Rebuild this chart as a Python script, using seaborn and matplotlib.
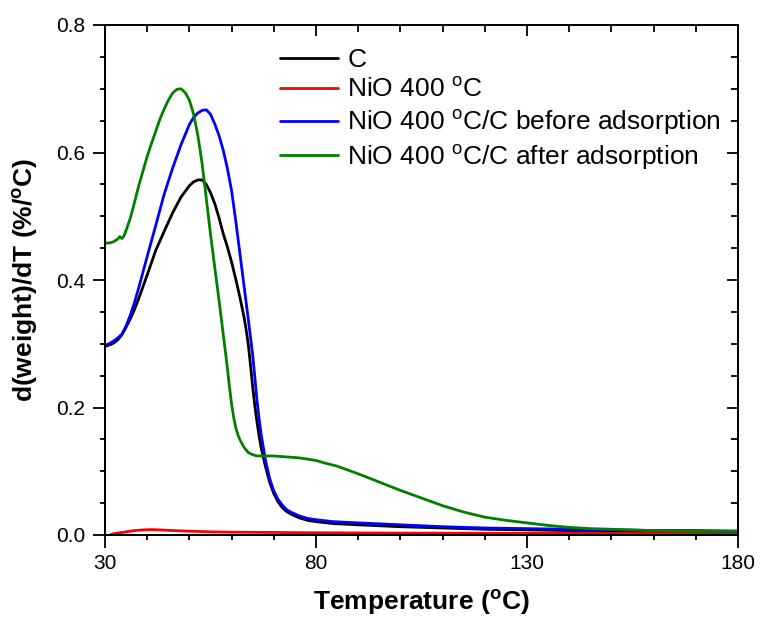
import numpy as np
import pandas as pd
import matplotlib
matplotlib.use("Agg")
import matplotlib.pyplot as plt
import matplotlib.transforms as mtransforms
import seaborn as sns
from matplotlib.ticker import FixedLocator, NullLocator, FormatStrFormatter

# Data
t_c = [30, 31, 32, 33, 34, 35, 36, 37, 38, 40, 42, 44, 46, 48, 50, 51, 52, 53, 54, 55, 56, 57, 58, 59,
       60, 61, 62, 63, 63.5, 64, 64.5, 65, 65.5, 66, 66.5, 67, 68, 69, 70, 71, 72, 73, 74, 76, 78, 80,
       84, 90, 100, 110, 120, 130, 140, 150, 160, 170, 180]
y_c = [0.296, 0.298, 0.301, 0.306, 0.314, 0.326, 0.339, 0.354, 0.371, 0.408, 0.446, 0.476, 0.505,
       0.530, 0.548, 0.554, 0.557, 0.557, 0.550, 0.537, 0.520, 0.498, 0.473, 0.452, 0.428, 0.401,
       0.372, 0.340, 0.320, 0.296, 0.265, 0.232, 0.203, 0.178, 0.156, 0.137, 0.108, 0.083, 0.065,
       0.052, 0.043, 0.037, 0.033, 0.027, 0.023, 0.021, 0.018, 0.016, 0.013, 0.011, 0.009, 0.008,
       0.007, 0.006, 0.005, 0.005, 0.004]

t_nio = [31.2, 32, 33, 35, 37, 39, 41, 43, 46, 50, 55, 60, 70, 80, 100, 130, 150, 180]
y_nio = [0.000, 0.002, 0.003, 0.005, 0.007, 0.008, 0.0085, 0.008, 0.007, 0.006, 0.005, 0.0045,
         0.004, 0.0035, 0.003, 0.0025, 0.0025, 0.002]

t_before = [30, 31, 32, 33, 34, 35, 36, 37, 38, 40, 42, 44, 46, 48, 50, 51, 52, 53, 54, 55, 56, 57,
            58, 59, 60, 61, 62, 63, 64, 65, 65.5, 66, 66.5, 67, 68, 69, 70, 71, 72, 73, 74, 76, 78,
            80, 84, 90, 100, 110, 120, 130, 140, 150, 160, 170, 180]
y_before = [0.298, 0.300, 0.304, 0.309, 0.315, 0.328, 0.345, 0.365, 0.388, 0.437, 0.485, 0.534,
            0.575, 0.612, 0.644, 0.655, 0.662, 0.666, 0.667, 0.660, 0.645, 0.627, 0.604, 0.575,
            0.540, 0.492, 0.440, 0.388, 0.336, 0.282, 0.248, 0.212, 0.183, 0.158, 0.118, 0.089,
            0.069, 0.056, 0.047, 0.040, 0.036, 0.030, 0.026, 0.024, 0.021, 0.019, 0.016, 0.013,
            0.011, 0.010, 0.009, 0.008, 0.007, 0.007, 0.006]

t_after = [30, 31, 32, 33, 33.5, 34, 34.5, 35, 36, 37, 38, 39, 40, 41, 42, 43, 44, 45, 46, 47, 48,
           49, 50, 51, 52, 53, 54, 55, 56, 57, 58, 59, 59.5, 60, 60.5, 61, 61.5, 62, 63, 64, 65, 66,
           68, 70, 72, 74, 76, 78, 80, 82, 85, 90, 95, 100, 105, 110, 115, 120, 125, 130, 135, 140,
           145, 150, 160, 170, 180]
y_after = [0.458, 0.458, 0.460, 0.464, 0.468, 0.465, 0.469, 0.478, 0.497, 0.522, 0.548, 0.571,
           0.594, 0.614, 0.633, 0.652, 0.668, 0.682, 0.693, 0.699, 0.700, 0.694, 0.682, 0.660,
           0.627, 0.583, 0.528, 0.472, 0.420, 0.369, 0.316, 0.262, 0.232, 0.205, 0.184, 0.168,
           0.157, 0.149, 0.137, 0.129, 0.126, 0.124, 0.124, 0.124, 0.123, 0.122, 0.121, 0.119,
           0.117, 0.113, 0.108, 0.096, 0.083, 0.070, 0.058, 0.046, 0.036, 0.028, 0.023, 0.019,
           0.015, 0.012, 0.010, 0.009, 0.007, 0.006, 0.006]

deg = r'$^{\mathrm{o}}$'
labels = ['C', 'NiO 400 ' + deg + 'C', 'NiO 400 ' + deg + 'C/C before adsorption',
          'NiO 400 ' + deg + 'C/C after adsorption']
colors = ['#000000', '#ff0000', '#0000ff', '#008000']

x_major = [30, 80, 130, 180]
x_minor = [40, 50, 60, 70, 90, 100, 110, 120, 140, 150, 160, 170]
x_all = list(range(30, 181, 10))
y_major = [0.0, 0.2, 0.4, 0.6, 0.8]
y_minor = [0.05, 0.1, 0.15, 0.25, 0.3, 0.35, 0.45, 0.5, 0.55, 0.65, 0.7, 0.75]
y_all = [round(0.05 * i, 2) for i in range(17)]

sns.set_style("ticks")
plt.rcParams['font.family'] = ['Liberation Sans', 'DejaVu Sans']
plt.rcParams['mathtext.fontset'] = 'custom'
plt.rcParams['mathtext.rm'] = 'Liberation Sans'
plt.rcParams['mathtext.bf'] = 'Liberation Sans:bold'
for k in ['text.color', 'axes.labelcolor', 'axes.edgecolor', 'xtick.color', 'ytick.color']:
    plt.rcParams[k] = 'black'
plt.rcParams['axes.linewidth'] = 1.3

fig = plt.figure(figsize=(7.6, 6.19), dpi=100)
ax = fig.add_axes([105 / 760, 1 - 535 / 619, 633 / 760, 510 / 619])

series = [(t_c, y_c), (t_nio, y_nio), (t_before, y_before), (t_after, y_after)]
for (t, y), lab, col in zip(series, labels, colors):
    df = pd.DataFrame({'T': t, 'dw': y})
    sns.lineplot(data=df, x='T', y='dw', color=col, label=lab, linewidth=2.0, ax=ax)

ax.set_xlim(30, 180)
ax.set_ylim(0, 0.8)


def is_major(v, majors):
    return any(abs(v - m) < 1e-9 for m in majors)


def shorten_minor(axis, majors, short=5):
    for tick, v in zip(axis.get_major_ticks(), axis.get_majorticklocs()):
        if not is_major(v, majors):
            tick.tick1line.set_markersize(short)
            tick.tick2line.set_markersize(short)


# mirrored ticks pointing inwards on top and right (twin axes)
ax_top = ax.twiny()
ax_top.set_xlim(ax.get_xlim())
ax_top.xaxis.set_major_locator(FixedLocator(x_all))
ax_top.xaxis.set_minor_locator(NullLocator())
ax_top.tick_params(axis='x', direction='in', length=8, width=1.3,
                   top=True, bottom=False, labeltop=False, labelbottom=False)
ax_right = ax.twinx()
ax_right.set_ylim(ax.get_ylim())
ax_right.yaxis.set_major_locator(FixedLocator(y_all))
ax_right.yaxis.set_minor_locator(NullLocator())
ax_right.tick_params(axis='y', direction='in', length=8, width=1.3,
                     right=True, left=False, labelright=False, labelleft=False)

# main axis: labelled major ticks pointing outwards
ax.xaxis.set_major_locator(FixedLocator(x_major))
ax.xaxis.set_minor_locator(NullLocator())
ax.yaxis.set_major_locator(FixedLocator(y_major))
ax.yaxis.set_minor_locator(NullLocator())
ax.yaxis.set_major_formatter(FormatStrFormatter('%.1f'))
ax.tick_params(axis='both', direction='out', length=9, width=1.3, labelsize=15, pad=5,
               bottom=True, left=True, top=False, right=False)

# short outward minor ticks on bottom and left, as line segments hung on the axes
tr_x = mtransforms.blended_transform_factory(ax.transData, ax.transAxes)
tr_y = mtransforms.blended_transform_factory(ax.transAxes, ax.transData)
ax.vlines(x_minor, 0, -5 / 510, transform=tr_x, colors='black', linewidth=1.3, clip_on=False)
ax.hlines(y_minor, 0, -5 / 633, transform=tr_y, colors='black', linewidth=1.3, clip_on=False)

ax.set_xlabel('Temperature (' + r'$^{\mathbf{o}}$' + 'C)', fontsize=19, fontweight='bold', labelpad=10)
ax.set_ylabel('d(weight)/dT (%/' + r'$^{\mathbf{o}}$' + 'C)', fontsize=19, fontweight='bold', labelpad=12)

ax.legend(loc='upper left', bbox_to_anchor=(280 / 760, 1 - 48 / 619), bbox_transform=fig.transFigure,
          frameon=False, fontsize=19, handlelength=2.2, handletextpad=0.35, labelspacing=0.2,
          borderpad=0, borderaxespad=0)

fig.canvas.draw()
shorten_minor(ax_top.xaxis, x_major)
shorten_minor(ax_right.yaxis, y_major)

fig.savefig('out.png', dpi=100)
